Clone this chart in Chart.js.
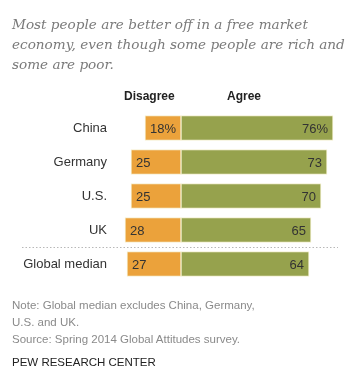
<!DOCTYPE html>
<html>
<head>
<meta charset="utf-8">
<script src="https://cdn.jsdelivr.net/npm/chart.js@4"></script>
<style>
  html, body { margin: 0; padding: 0; background: #fff; }
  #wrap { position: relative; width: 352px; height: 383px; overflow: hidden; }
  #myChart { position: absolute; left: 0; top: 0; }
  .title { position: absolute; left: 12px; top: 14px; white-space: nowrap;
    font: italic 13.6px "DejaVu Serif", Georgia, serif; line-height: 20px; color: #7a7a7a; }
  .head { position: absolute; top: 89px; font: bold 12px "Liberation Sans", Arial, sans-serif; color: #222; }
  .note { position: absolute; left: 12px; top: 297px; font: 11.5px "Liberation Sans", Arial, sans-serif;
    line-height: 17px; color: #8a8a8a; }
  .pew { position: absolute; left: 12px; top: 356px; font: 11.5px "Liberation Sans", Arial, sans-serif; color: #222; }
</style>
</head>
<body>
<div id="wrap">
  <canvas id="myChart" width="352" height="383"></canvas>
  <div class="title">Most people are better off in a free market<br>economy, even though some people are rich and<br>some are poor.</div>
  <div class="head" style="left:124px">Disagree</div>
  <div class="head" style="left:227px">Agree</div>
  <div class="note">Note: Global median excludes China, Germany,<br>U.S. and UK.<br>Source: Spring 2014 Global Attitudes survey.</div>
  <div class="pew">PEW RESEARCH CENTER</div>
</div>
<script>
// データ
const countries = ['China', 'Germany', 'U.S.', 'UK', 'Global median'];
const disagree = [18, 25, 25, 28, 27];
const agree = [76, 73, 70, 65, 64];

// 棒の中に数値を書く
const valueLabels = {
  id: 'valueLabels',
  afterDatasetsDraw(chart) {
    const ctx = chart.ctx;
    ctx.save();
    ctx.font = '13px "Liberation Sans", Arial, sans-serif';
    ctx.fillStyle = '#333';
    ctx.textBaseline = 'middle';
    chart.getDatasetMeta(0).data.forEach((bar, i) => {
      ctx.textAlign = 'left';
      ctx.fillText(disagree[i] + (i === 0 ? '%' : ''), bar.x + 5, bar.y + 1);
    });
    chart.getDatasetMeta(1).data.forEach((bar, i) => {
      ctx.textAlign = 'right';
      ctx.fillText(agree[i] + (i === 0 ? '%' : ''), bar.x - 5, bar.y + 1);
    });
    ctx.restore();
  }
};

// 点線の区切り
const divider = {
  id: 'divider',
  afterDraw(chart) {
    const y = chart.scales.y;
    const yy = Math.round((y.getPixelForValue(3) + y.getPixelForValue(4)) / 2) + 0.5;
    const ctx = chart.ctx;
    ctx.save();
    ctx.strokeStyle = '#b8b8b8';
    ctx.lineWidth = 1;
    ctx.setLineDash([1.5, 2]);
    ctx.beginPath();
    ctx.moveTo(22, yy);
    ctx.lineTo(338, yy);
    ctx.stroke();
    ctx.restore();
  }
};

const ctx = document.getElementById('myChart').getContext('2d');
const chart = new Chart(ctx, {
  type: 'bar',
  data: {
    labels: countries,
    datasets: [
      {
        label: 'Disagree',
        data: disagree.map(v => -v),
        backgroundColor: '#eba23b',
        borderColor: '#f6efcf',
        borderWidth: 1,
        borderSkipped: false,
        barThickness: 25,
      },
      {
        label: 'Agree',
        data: agree,
        backgroundColor: '#96a24d',
        borderColor: '#f3f0cf',
        borderWidth: 1,
        borderSkipped: false,
        barThickness: 25,
      },
    ],
  },
  options: {
    indexAxis: 'y',
    responsive: false,
    animation: false,
    layout: { padding: { left: 0, right: 11, top: 111, bottom: 102 } },
    plugins: { legend: { display: false }, tooltip: { enabled: false } },
    scales: {
      x: {
        stacked: true,
        min: -30,
        max: 80,
        display: false,
      },
      y: {
        stacked: true,
        grid: { display: false, drawTicks: false },
        border: { display: false },
        afterFit(scale) { scale.width = 121; },
        ticks: {
          padding: 14,
          color: '#333',
          font: { family: '"Liberation Sans", Arial, sans-serif', size: 13 },
        },
      },
    },
  },
  plugins: [valueLabels, divider],
});
</script>
</body>
</html>
